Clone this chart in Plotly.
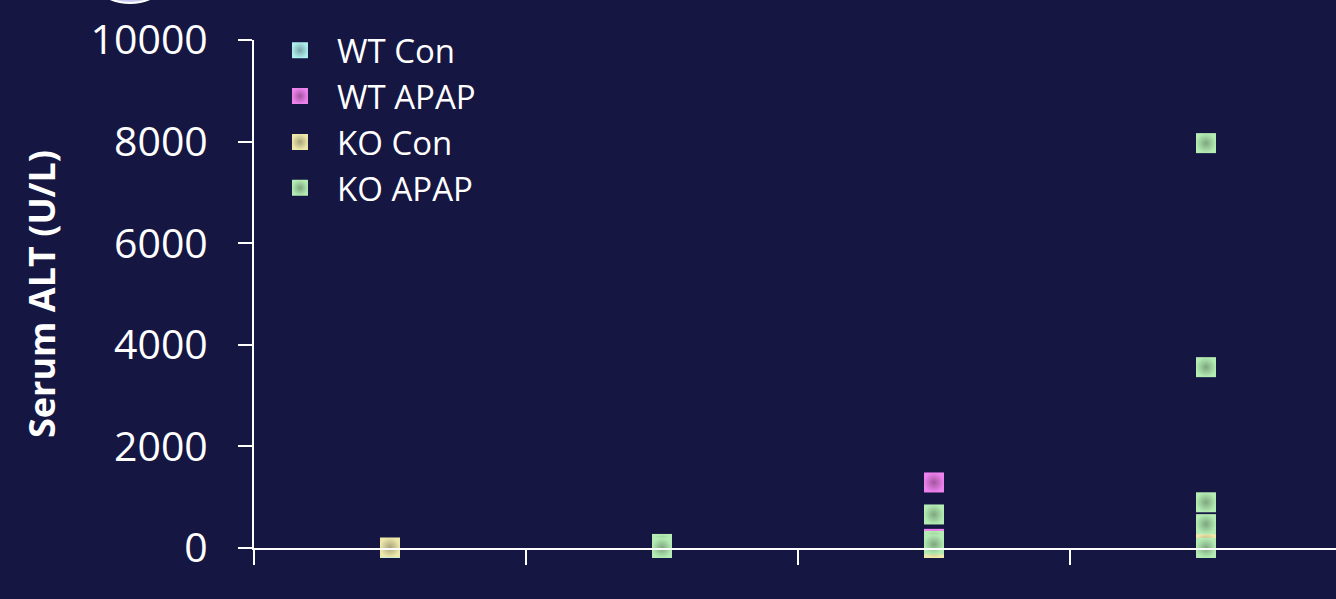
import plotly.graph_objects as go

# Serum ALT per mouse, grouped by time point (x = group index)
wt_con_x = [1]
wt_con_y = [0]

wt_apap_x = [3, 3]
wt_apap_y = [1290, 180]

ko_con_x = [1, 3, 4]
ko_con_y = [10, 0, 100]

ko_apap_x = [2, 2, 2, 3, 3, 3, 4, 4, 4, 4, 4]
ko_apap_y = [80, 10, 0, 660, 140, 70, 7970, 3560, 900, 470, 0]

y_ticks = [0, 2000, 4000, 6000, 8000, 10000]
y_tick_labels = ["0", "2000", "4000", "6000", "8000", "10000"]
x_bounds = [0.5, 1.5, 2.5, 3.5, 4.5]

BG = "#161642"
FONT = "Open Sans, Noto Sans, sans-serif"

series = [
    ("WT Con", wt_con_x, wt_con_y, "#afeeee", "#78a6a8"),
    ("WT APAP", wt_apap_x, wt_apap_y, "#ee82ee", "#a2569e"),
    ("KO Con", ko_con_x, ko_con_y, "#eee8aa", "#a8a47c"),
    ("KO APAP", ko_apap_x, ko_apap_y, "#b4ecb4", "#7ea67e"),
]

fig = go.Figure()
for name, xs, ys, outer, inner in series:
    fig.add_trace(go.Scatter(
        x=xs, y=ys, name=name, mode="markers",
        cliponaxis=False,
        marker=dict(symbol="square", size=20, color=outer,
                    line=dict(width=0),
                    gradient=dict(type="radial", color=inner)),
    ))

fig.update_layout(
    width=1336, height=599,
    margin=dict(l=254, r=0, t=40, b=51),
    paper_bgcolor=BG, plot_bgcolor=BG,
    font=dict(family=FONT, color="white"),
    showlegend=True,
    legend=dict(x=0.0083, y=1.035, xanchor="left", yanchor="top",
                bgcolor="rgba(0,0,0,0)", font=dict(size=33, color="white"),
                itemsizing="trace", itemwidth=64, tracegroupgap=0),
    xaxis=dict(range=[0.5, 4.478], showgrid=False, zeroline=False,
               showline=True, linecolor="white", linewidth=2,
               ticks="outside", tickvals=x_bounds, ticklen=15,
               tickcolor="white", tickwidth=2, showticklabels=False),
    yaxis=dict(range=[0, 10000], showgrid=False, zeroline=False,
               showline=True, linecolor="white", linewidth=2,
               ticks="outside", tickvals=y_ticks, ticktext=y_tick_labels,
               ticklen=14, tickcolor="white", tickwidth=2,
               ticklabelstandoff=22,
               tickfont=dict(size=41, color="white", family=FONT),
               title=dict(text="<b>Serum ALT (U/L)</b>",
                          font=dict(size=36, color="white", family=FONT),
                          standoff=24)),
    shapes=[dict(type="circle", xref="paper", yref="paper",
                 x0=(80 - 254) / 1082, x1=(180 - 254) / 1082,
                 y0=(548 - 3) / 508, y1=(548 + 97) / 508,
                 fillcolor="#c8c8f0", line=dict(color="white", width=2),
                 layer="above")],
)

fig.write_html("out.html")
